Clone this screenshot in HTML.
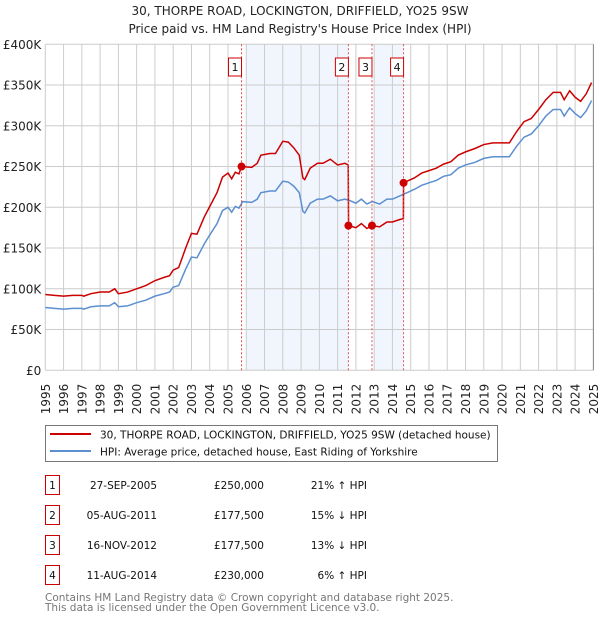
<!DOCTYPE html>
<html><head><meta charset="utf-8"><style>
body{margin:0;background:#fff;font-family:"Liberation Sans","DejaVu Sans",sans-serif;}
svg text{font-family:"DejaVu Sans","Liberation Sans",sans-serif;}
</style></head><body>
<svg id="chart" width="600" height="620" xmlns="http://www.w3.org/2000/svg">
<text x="300" y="15" text-anchor="middle" font-size="12" fill="#222">30, THORPE ROAD, LOCKINGTON, DRIFFIELD, YO25 9SW</text>
<text x="300" y="33" text-anchor="middle" font-size="12" fill="#222">Price paid vs. HM Land Registry's House Price Index (HPI)</text>
<g id="shade"></g><g id="grid"></g><g id="axes"></g><g id="lines"></g><g id="marks"></g>
<g>
<rect x="45.5" y="425.5" width="452" height="36" fill="#fff" stroke="#777"/>
<line x1="50" y1="434" x2="91" y2="434" stroke="#cc0000" stroke-width="2"/>
<text x="100" y="438.5" font-size="10.5" fill="#111">30, THORPE ROAD, LOCKINGTON, DRIFFIELD, YO25 9SW (detached house)</text>
<line x1="50" y1="451" x2="91" y2="451" stroke="#5b8fd0" stroke-width="2"/>
<text x="100" y="455.5" font-size="10.5" fill="#111">HPI: Average price, detached house, East Riding of Yorkshire</text>
</g>
<g id="table" font-size="10.5" fill="#111"></g>
<text x="45" y="601" font-size="10.5" fill="#777">Contains HM Land Registry data © Crown copyright and database right 2025.</text>
<text x="45" y="611" font-size="10.5" fill="#777">This data is licensed under the Open Government Licence v3.0.</text>
</svg>
<script>
const hpiT=[1995.0,1995.5,1996.0,1996.5,1997.0,1997.1,1997.5,1998.0,1998.5,1998.8,1999.0,1999.5,2000.0,2000.5,2001.0,2001.5,2001.8,2002.0,2002.3,2002.7,2003.0,2003.3,2003.7,2004.0,2004.4,2004.7,2005.0,2005.2,2005.4,2005.6,2005.8,2006.3,2006.6,2006.8,2007.3,2007.6,2008.0,2008.3,2008.6,2008.9,2009.1,2009.2,2009.5,2009.9,2010.2,2010.6,2011.0,2011.4,2011.7,2012.0,2012.3,2012.6,2012.9,2013.3,2013.7,2014.0,2014.4,2014.8,2015.2,2015.6,2016.0,2016.4,2016.8,2017.2,2017.6,2018.0,2018.5,2019.0,2019.5,2020.0,2020.4,2020.8,2021.2,2021.6,2022.0,2022.4,2022.8,2023.2,2023.4,2023.7,2024.0,2024.3,2024.6,2024.9];
const hpiV=[77,76,75,76,76,75,78,79,79,83,78,79,83,86,91,94,96,102,104,125,139,138,155,166,180,196,200,194,201,199,207,206,210,218,220,220,232,231,226,218,195,193,205,210,210,214,208,210,208,205,210,204,207,204,210,210,214,218,222,227,230,233,238,240,248,252,255,260,262,262,262,275,286,290,300,312,320,320,312,322,315,310,318,331];
const priceT=[1995.0,1995.5,1996.0,1996.5,1997.0,1997.1,1997.5,1998.0,1998.5,1998.8,1999.0,1999.5,2000.0,2000.5,2001.0,2001.5,2001.8,2002.0,2002.3,2002.7,2003.0,2003.3,2003.7,2004.0,2004.4,2004.7,2005.0,2005.2,2005.4,2005.6,2005.74,2006.3,2006.6,2006.8,2007.3,2007.6,2008.0,2008.3,2008.6,2008.9,2009.1,2009.2,2009.5,2009.9,2010.2,2010.6,2011.0,2011.4,2011.58,2011.6,2012.0,2012.3,2012.6,2012.88,2013.3,2013.7,2014.0,2014.4,2014.6,2014.61,2014.8,2015.2,2015.6,2016.0,2016.4,2016.8,2017.2,2017.6,2018.0,2018.5,2019.0,2019.5,2020.0,2020.4,2020.8,2021.2,2021.6,2022.0,2022.4,2022.8,2023.2,2023.4,2023.7,2024.0,2024.3,2024.6,2024.9];
const priceV=[93,92,91,92,92,91,94,96,96,100,94,96,100,104,110,114,116,123,126,151,168,167,188,201,218,237,242,235,243,241,250,249,254,264,266,266,281,280,273,264,236,234,248,254,254,259,252,254,252,177.5,175,180,174,177.5,176,182,182,185,186,230,232,236,242,245,248,253,256,264,268,272,277,279,279,279,293,305,309,320,332,341,341,332,343,335,330,339,353];
const saleT=[2005.74,2011.59,2012.88,2014.61];
const saleV=[250,177.5,177.5,230];
const saleLabels=["1","2","3","4"];
const saleDates=["27-SEP-2005","05-AUG-2011","16-NOV-2012","11-AUG-2014"];
const salePrices=["£250,000","£177,500","£177,500","£230,000"];
const saleHpi=["21% ↑ HPI","15% ↓ HPI","13% ↓ HPI","6% ↑ HPI"];
const yTicks=[0,50,100,150,200,250,300,350,400];
const yTickLabels=["£0","£50K","£100K","£150K","£200K","£250K","£300K","£350K","£400K"];
const shadeRanges=[[2006.0,2011.59],[2012.98,2014.61]];
const X0=45.3,X1=593.4,Y0=370.3,Y1=44.3;
const x=t=>X0+(t-1995)/30*(X1-X0);
const y=v=>Y0-v/400*(Y0-Y1);
const NS="http://www.w3.org/2000/svg";
function mk(tag,attrs,parent){const e=document.createElementNS(NS,tag);for(const k in attrs)e.setAttribute(k,attrs[k]);parent.appendChild(e);return e;}
const shade=document.getElementById('shade'),grid=document.getElementById('grid'),axes=document.getElementById('axes'),lines=document.getElementById('lines'),marks=document.getElementById('marks'),table=document.getElementById('table');
shadeRanges.forEach(r=>{const e=mk('rect',{x:x(r[0]),y:Y1,width:x(r[1])-x(r[0]),height:Y0-Y1,fill:'#eef3fc',opacity:0.8},shade);

});
for(let yr=1995;yr<=2025;yr++){const g=mk('line',{x1:x(yr),x2:x(yr),y1:Y1,y2:Y0,stroke:'#ccc','stroke-width':1},grid);


const tx=mk('text',{transform:`translate(${x(yr)+4.5},${Y0+44}) rotate(-90)`,'font-size':12,fill:'#222'},axes);tx.textContent=yr;

}
yTicks.forEach((v,i)=>{const g=mk('line',{x1:X0,x2:X1,y1:y(v),y2:y(v),stroke:'#ccc','stroke-width':1},grid);


const tx=mk('text',{x:X0-4,y:y(v)+4.5,'text-anchor':'end','font-size':12,fill:'#222'},axes);tx.textContent=yTickLabels[i];

});
const hp=mk('polyline',{points:hpiT.map((t,i)=>x(t)+','+y(hpiV[i])).join(' '),fill:'none',stroke:'#5b8fd0','stroke-width':1.5},lines);


const pp=mk('polyline',{points:priceT.map((t,i)=>x(t)+','+y(priceV[i])).join(' '),fill:'none',stroke:'#cc0000','stroke-width':1.5},lines);


saleT.forEach((t,i)=>{
const vl=mk('line',{x1:x(t),x2:x(t),y1:Y1,y2:Y0,stroke:'#e05050','stroke-width':1,'stroke-dasharray':'2,2'},marks);


const c=mk('circle',{cx:x(t),cy:y(saleV[i]),r:4,fill:'#cc0000'},marks);


const bx=mk('rect',{x:x(t)-13,y:58,width:13,height:18,fill:'#fff',stroke:'#cc0000'},marks);


const bt=mk('text',{x:x(t)-6.5,y:71,'text-anchor':'middle','font-size':11,fill:'#111'},marks);bt.textContent=saleLabels[i];


const ry=483+i*30;
const tb=mk('rect',{x:45.5,y:ry-7.5,width:14,height:19,fill:'#fff',stroke:'#cc0000'},table);


const tn=mk('text',{x:52.5,y:ry+6,'text-anchor':'middle'},table);tn.textContent=saleLabels[i];


const td=mk('text',{x:157,y:ry+6,'text-anchor':'end'},table);td.textContent=saleDates[i];


const tp=mk('text',{x:264,y:ry+6,'text-anchor':'end'},table);tp.textContent=salePrices[i];


const th=mk('text',{x:367,y:ry+6,'text-anchor':'end'},table);th.textContent=saleHpi[i];


});
const rb=mk('line',{x1:X1,x2:X1,y1:Y1,y2:Y0,stroke:'#888','stroke-width':1},axes);


</script>
</body></html>
